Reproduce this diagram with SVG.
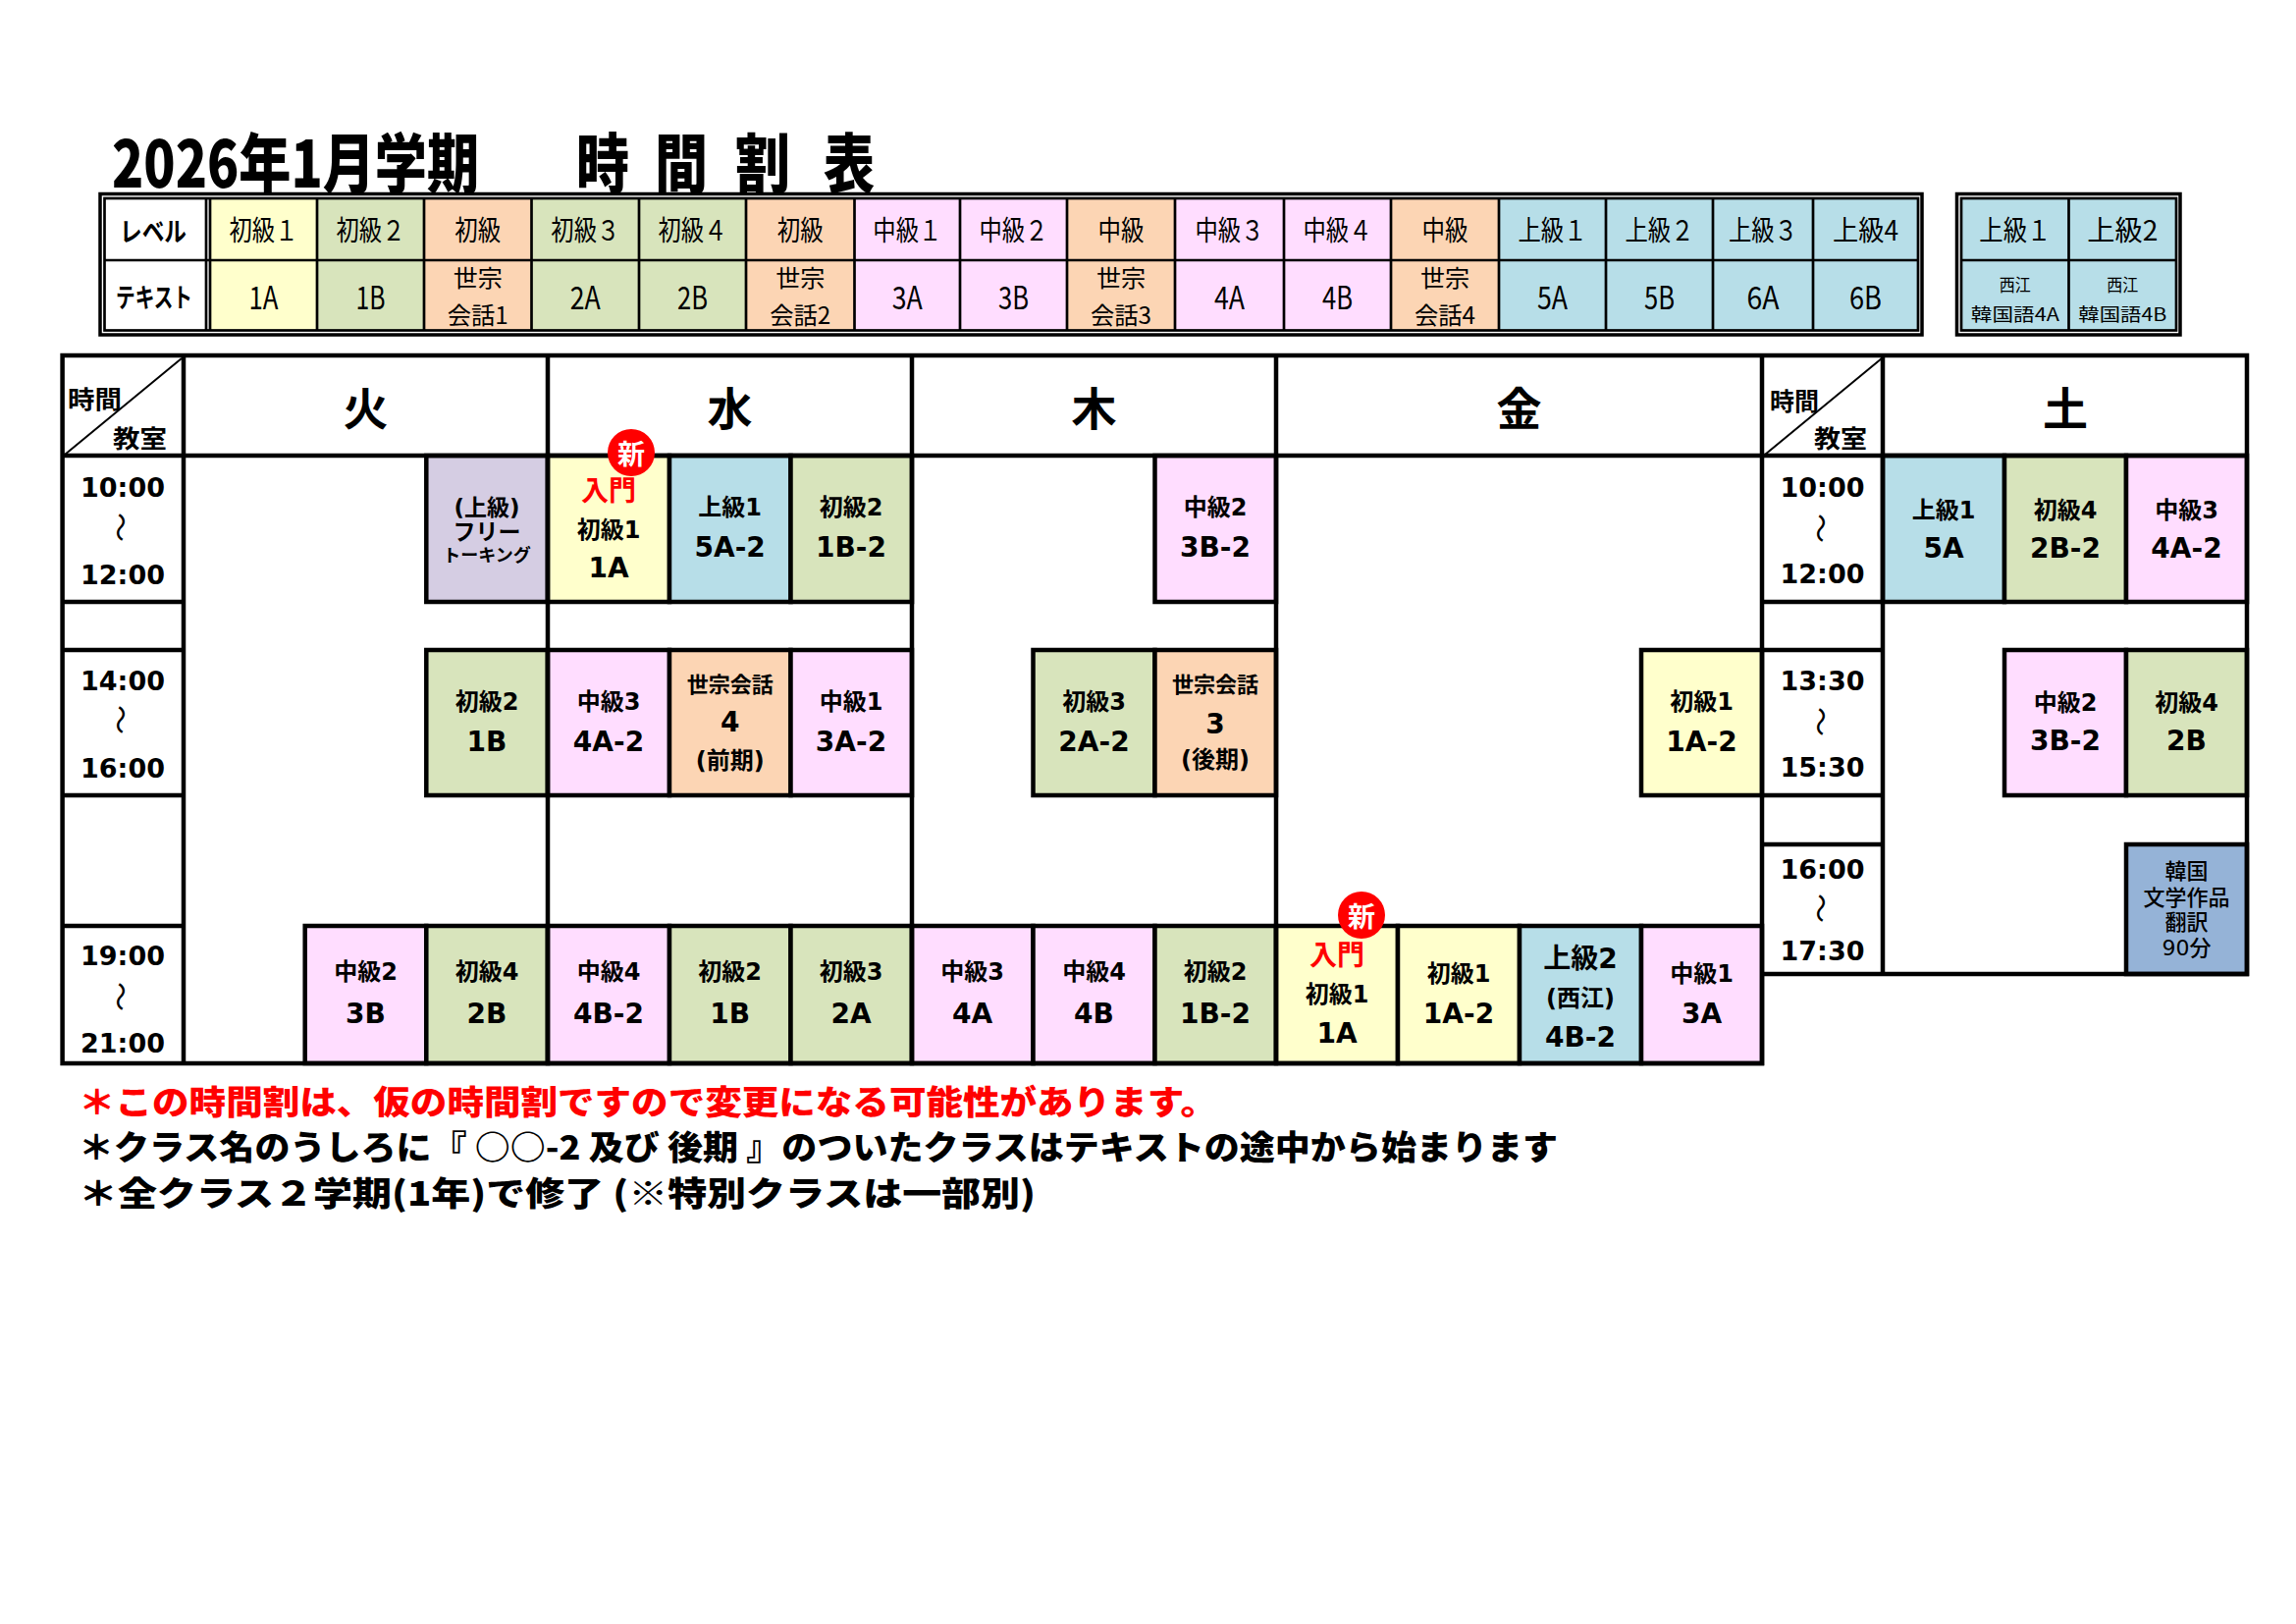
<svg xmlns="http://www.w3.org/2000/svg" width="2339" height="1654" viewBox="0 0 2339 1654">
<style>
text{dominant-baseline:central;text-anchor:middle;fill:#000}
.n{font-family:"Noto Sans CJK JP","Noto Sans",sans-serif}
.j{font-family:"DejaVu Sans","Noto Sans CJK JP",sans-serif;font-weight:700}
.bd{font-weight:700}
.hv{font-weight:900}
.lv{font-size:28px;font-weight:400}
.lc{font-size:32px;font-weight:400}
.ls{font-size:24px;font-weight:400}
.lt{font-size:18px;font-weight:400}
.lb{font-size:24px}
.cd{font-size:28px}
.tm{font-size:27px}
.wv{font-family:"Noto Sans CJK JP",sans-serif;font-size:30px;font-weight:400}
.hd{font-size:46px;font-weight:700}
.red{fill:#FF0000}
.wh{fill:#FFFFFF}
.st{text-anchor:start}
.c{stroke:#000;stroke-width:4.5}
.lg{fill:none;stroke:#000;stroke-width:2.7}
.g{fill:none;stroke:#000;stroke-width:4.5;stroke-linecap:square}
.y{fill:#FFFFCC}.gr{fill:#D8E4BC}.o{fill:#FCD5B4}.p{fill:#FFDDFF}.b{fill:#B7DEE8}.v{fill:#D5CDE3}.kb{fill:#95B3D7}.w{fill:#FFFFFF}
</style>

<g id="title" class="n hv">
<text class="st" x="114" y="162" font-size="66" textLength="374" lengthAdjust="spacingAndGlyphs">2026年1月学期</text>
<text x="614" y="162" font-size="66" textLength="54" lengthAdjust="spacingAndGlyphs">時</text>
<text x="694" y="162" font-size="66" textLength="54" lengthAdjust="spacingAndGlyphs">間</text>
<text x="777" y="162" font-size="66" textLength="56" lengthAdjust="spacingAndGlyphs">割</text>
<text x="865" y="162" font-size="66" textLength="52" lengthAdjust="spacingAndGlyphs">表</text>
</g>

<!-- level table -->
<g id="level-table" class="n">
<g id="lv-head">
<rect class="w" x="106.5" y="202" width="103.5" height="134.5"/>
<text class="bd" x="156" y="234" font-size="27" textLength="68" lengthAdjust="spacingAndGlyphs">レベル</text>
<text class="bd" x="157" y="301" font-size="27" textLength="78" lengthAdjust="spacingAndGlyphs">テキスト</text>
</g>
<g id="lv1"><rect class="y" x="214" y="202" width="109" height="134.5"/><text class="lv" x="268.5" y="233" textLength="70" lengthAdjust="spacingAndGlyphs">初級１</text><text class="lc" x="268.5" y="301" textLength="30" lengthAdjust="spacingAndGlyphs">1A</text></g>
<g id="lv2"><rect class="gr" x="323" y="202" width="109" height="134.5"/><text class="lv" x="377.5" y="233" textLength="70" lengthAdjust="spacingAndGlyphs">初級２</text><text class="lc" x="377.5" y="301" textLength="30" lengthAdjust="spacingAndGlyphs">1B</text></g>
<g id="lv3"><rect class="o" x="432" y="202" width="109.5" height="134.5"/><text class="lv" x="486.8" y="233" textLength="47" lengthAdjust="spacingAndGlyphs">初級</text><text class="ls" x="486.8" y="281" textLength="50" lengthAdjust="spacingAndGlyphs">世宗</text><text class="ls" x="486.8" y="319" textLength="62" lengthAdjust="spacingAndGlyphs">会話1</text></g>
<g id="lv4"><rect class="gr" x="541.5" y="202" width="109.5" height="134.5"/><text class="lv" x="596.3" y="233" textLength="70" lengthAdjust="spacingAndGlyphs">初級３</text><text class="lc" x="596.3" y="301" textLength="31" lengthAdjust="spacingAndGlyphs">2A</text></g>
<g id="lv5"><rect class="gr" x="651" y="202" width="109" height="134.5"/><text class="lv" x="705.5" y="233" textLength="70" lengthAdjust="spacingAndGlyphs">初級４</text><text class="lc" x="705.5" y="301" textLength="31" lengthAdjust="spacingAndGlyphs">2B</text></g>
<g id="lv6"><rect class="o" x="760" y="202" width="110.5" height="134.5"/><text class="lv" x="815.3" y="233" textLength="47" lengthAdjust="spacingAndGlyphs">初級</text><text class="ls" x="815.3" y="281" textLength="50" lengthAdjust="spacingAndGlyphs">世宗</text><text class="ls" x="815.3" y="319" textLength="62" lengthAdjust="spacingAndGlyphs">会話2</text></g>
<g id="lv7"><rect class="p" x="870.5" y="202" width="107.5" height="134.5"/><text class="lv" x="924.3" y="233" textLength="70" lengthAdjust="spacingAndGlyphs">中級１</text><text class="lc" x="924.3" y="301" textLength="31" lengthAdjust="spacingAndGlyphs">3A</text></g>
<g id="lv8"><rect class="p" x="978" y="202" width="109" height="134.5"/><text class="lv" x="1032.5" y="233" textLength="70" lengthAdjust="spacingAndGlyphs">中級２</text><text class="lc" x="1032.5" y="301" textLength="31" lengthAdjust="spacingAndGlyphs">3B</text></g>
<g id="lv9"><rect class="o" x="1087" y="202" width="110" height="134.5"/><text class="lv" x="1142" y="233" textLength="47" lengthAdjust="spacingAndGlyphs">中級</text><text class="ls" x="1142" y="281" textLength="50" lengthAdjust="spacingAndGlyphs">世宗</text><text class="ls" x="1142" y="319" textLength="62" lengthAdjust="spacingAndGlyphs">会話3</text></g>
<g id="lv10"><rect class="p" x="1197" y="202" width="111" height="134.5"/><text class="lv" x="1252.5" y="233" textLength="70" lengthAdjust="spacingAndGlyphs">中級３</text><text class="lc" x="1252.5" y="301" textLength="31" lengthAdjust="spacingAndGlyphs">4A</text></g>
<g id="lv11"><rect class="p" x="1308" y="202" width="109" height="134.5"/><text class="lv" x="1362.5" y="233" textLength="70" lengthAdjust="spacingAndGlyphs">中級４</text><text class="lc" x="1362.5" y="301" textLength="31" lengthAdjust="spacingAndGlyphs">4B</text></g>
<g id="lv12"><rect class="o" x="1417" y="202" width="110" height="134.5"/><text class="lv" x="1472" y="233" textLength="47" lengthAdjust="spacingAndGlyphs">中級</text><text class="ls" x="1472" y="281" textLength="50" lengthAdjust="spacingAndGlyphs">世宗</text><text class="ls" x="1472" y="319" textLength="62" lengthAdjust="spacingAndGlyphs">会話4</text></g>
<g id="lv13"><rect class="b" x="1527" y="202" width="109" height="134.5"/><text class="lv" x="1581.5" y="233" textLength="70" lengthAdjust="spacingAndGlyphs">上級１</text><text class="lc" x="1581.5" y="301" textLength="31" lengthAdjust="spacingAndGlyphs">5A</text></g>
<g id="lv14"><rect class="b" x="1636" y="202" width="109" height="134.5"/><text class="lv" x="1690.5" y="233" textLength="70" lengthAdjust="spacingAndGlyphs">上級２</text><text class="lc" x="1690.5" y="301" textLength="31" lengthAdjust="spacingAndGlyphs">5B</text></g>
<g id="lv15"><rect class="b" x="1745" y="202" width="102" height="134.5"/><text class="lv" x="1796" y="233" textLength="70" lengthAdjust="spacingAndGlyphs">上級３</text><text class="lc" x="1796" y="301" textLength="33" lengthAdjust="spacingAndGlyphs">6A</text></g>
<g id="lv16"><rect class="b" x="1847" y="202" width="107" height="134.5"/><text class="lv" x="1900.5" y="233" textLength="67" lengthAdjust="spacingAndGlyphs">上級4</text><text class="lc" x="1900.5" y="301" textLength="33" lengthAdjust="spacingAndGlyphs">6B</text></g>
<g id="lv-lines">
<rect x="102" y="197.5" width="1856" height="143.5" fill="none" stroke="#000" stroke-width="3.5"/>
<rect class="lg" x="106.5" y="202" width="1847.5" height="134.5" stroke-width="2"/>
<path class="lg" d="M106.5 265H1954M210 202V336.5M214 202V336.5M323 202V336.5M432 202V336.5M541.5 202V336.5M651 202V336.5M760 202V336.5M870.5 202V336.5M978 202V336.5M1087 202V336.5M1197 202V336.5M1308 202V336.5M1417 202V336.5M1527 202V336.5M1636 202V336.5M1745 202V336.5M1847 202V336.5"/>
</g>
</g>

<g id="level-table-2" class="n">
<g id="lv-s1"><rect class="b" x="1998" y="202" width="109.5" height="134.5"/><text class="lv" x="2052.8" y="233" textLength="73" lengthAdjust="spacingAndGlyphs">上級１</text><text class="lt" x="2052.8" y="289" font-size="18" textLength="32" lengthAdjust="spacingAndGlyphs">西江</text><text class="lt" x="2052.8" y="319" font-size="19" textLength="90" lengthAdjust="spacingAndGlyphs">韓国語4A</text></g>
<g id="lv-s2"><rect class="b" x="2107.5" y="202" width="109.5" height="134.5"/><text class="lv" x="2162.3" y="233" textLength="72" lengthAdjust="spacingAndGlyphs">上級2</text><text class="lt" x="2162.3" y="289" font-size="18" textLength="32" lengthAdjust="spacingAndGlyphs">西江</text><text class="lt" x="2162.3" y="319" font-size="19" textLength="90" lengthAdjust="spacingAndGlyphs">韓国語4B</text></g>
<rect x="1993.5" y="197.5" width="227.5" height="143.5" fill="none" stroke="#000" stroke-width="3.5"/>
<rect class="lg" x="1998" y="202" width="219" height="134.5" stroke-width="2"/>
<path class="lg" d="M1998 265H2217M2107.5 202V336.5"/>
</g>

<!-- main timetable cells -->
<g id="cells" class="j">
<!-- Tuesday -->
<g id="tue-free"><rect class="c v" x="434.3" y="464" width="123.7" height="149"/><text x="496" y="517" font-size="23">(上級)</text><text x="496" y="542" font-size="23">フリー</text><text x="496" y="565" font-size="18">トーキング</text></g>
<g id="tue-1b"><rect class="c gr" x="434.3" y="662" width="123.7" height="148"/><text class="lb" x="496" y="715">初級2</text><text class="cd" x="496" y="755">1B</text></g>
<g id="tue-3b"><rect class="c p" x="310.7" y="943" width="123.6" height="140"/><text class="lb" x="372.5" y="990">中級2</text><text class="cd" x="372.5" y="1032">3B</text></g>
<g id="tue-2b"><rect class="c gr" x="434.3" y="943" width="123.7" height="140"/><text class="lb" x="496" y="990">初級4</text><text class="cd" x="496" y="1032">2B</text></g>
<!-- Wednesday -->
<g id="wed-1a"><rect class="c y" x="558" y="464" width="124" height="149"/><text class="red" x="620" y="500" font-size="28">入門</text><text class="lb" x="620" y="540">初級1</text><text class="cd" x="620" y="578">1A</text></g>
<g id="wed-5a2"><rect class="c b" x="682" y="464" width="123.5" height="149"/><text class="lb" x="743.7" y="517">上級1</text><text class="cd" x="743.7" y="557">5A-2</text></g>
<g id="wed-1b2"><rect class="c gr" x="805.5" y="464" width="123.5" height="149"/><text class="lb" x="867" y="517">初級2</text><text class="cd" x="867" y="557">1B-2</text></g>
<g id="wed-4a2"><rect class="c p" x="558" y="662" width="124" height="148"/><text class="lb" x="620" y="715">中級3</text><text class="cd" x="620" y="755">4A-2</text></g>
<g id="wed-sejong4"><rect class="c o" x="682" y="662" width="123.5" height="148"/><text x="743.7" y="697" font-size="22">世宗会話</text><text class="cd" x="743.7" y="735">4</text><text x="743.7" y="775" font-size="24">(前期)</text></g>
<g id="wed-3a2"><rect class="c p" x="805.5" y="662" width="123.5" height="148"/><text class="lb" x="867" y="715">中級1</text><text class="cd" x="867" y="755">3A-2</text></g>
<g id="wed-4b2"><rect class="c p" x="558" y="943" width="124" height="140"/><text class="lb" x="620" y="990">中級4</text><text class="cd" x="620" y="1032">4B-2</text></g>
<g id="wed-1b"><rect class="c gr" x="682" y="943" width="123.5" height="140"/><text class="lb" x="743.7" y="990">初級2</text><text class="cd" x="743.7" y="1032">1B</text></g>
<g id="wed-2a"><rect class="c gr" x="805.5" y="943" width="123.5" height="140"/><text class="lb" x="867" y="990">初級3</text><text class="cd" x="867" y="1032">2A</text></g>
<!-- Thursday -->
<g id="thu-3b2"><rect class="c p" x="1176.5" y="464" width="123.5" height="149"/><text class="lb" x="1238" y="517">中級2</text><text class="cd" x="1238" y="557">3B-2</text></g>
<g id="thu-2a2"><rect class="c gr" x="1052.5" y="662" width="124" height="148"/><text class="lb" x="1114.5" y="715">初級3</text><text class="cd" x="1114.5" y="755">2A-2</text></g>
<g id="thu-sejong3"><rect class="c o" x="1176.5" y="662" width="123.5" height="148"/><text x="1238" y="697" font-size="22">世宗会話</text><text class="cd" x="1238" y="737">3</text><text x="1238" y="774" font-size="24">(後期)</text></g>
<g id="thu-4a"><rect class="c p" x="929" y="943" width="123.5" height="140"/><text class="lb" x="990.7" y="990">中級3</text><text class="cd" x="990.7" y="1032">4A</text></g>
<g id="thu-4b"><rect class="c p" x="1052.5" y="943" width="124" height="140"/><text class="lb" x="1114.5" y="990">中級4</text><text class="cd" x="1114.5" y="1032">4B</text></g>
<g id="thu-1b2"><rect class="c gr" x="1176.5" y="943" width="123.5" height="140"/><text class="lb" x="1238" y="990">初級2</text><text class="cd" x="1238" y="1032">1B-2</text></g>
<!-- Friday -->
<g id="fri-1a2-pm"><rect class="c y" x="1672" y="662" width="123" height="148"/><text class="lb" x="1733.5" y="715">初級1</text><text class="cd" x="1733.5" y="755">1A-2</text></g>
<g id="fri-1a"><rect class="c y" x="1300" y="943" width="124" height="140"/><text class="red" x="1362" y="973" font-size="28">入門</text><text class="lb" x="1362" y="1013">初級1</text><text class="cd" x="1362" y="1052">1A</text></g>
<g id="fri-1a2"><rect class="c y" x="1424" y="943" width="124" height="140"/><text class="lb" x="1486" y="992">初級1</text><text class="cd" x="1486" y="1032">1A-2</text></g>
<g id="fri-4b2"><rect class="c b" x="1548" y="943" width="124" height="140"/><text x="1610" y="976" font-size="28">上級2</text><text x="1610" y="1017" font-size="24">(西江)</text><text class="cd" x="1610" y="1056">4B-2</text></g>
<g id="fri-3a"><rect class="c p" x="1672" y="943" width="123" height="140"/><text class="lb" x="1733.5" y="992">中級1</text><text class="cd" x="1733.5" y="1032">3A</text></g>
<!-- Saturday -->
<g id="sat-5a"><rect class="c b" x="1918" y="464" width="124" height="149"/><text class="lb" x="1980" y="520">上級1</text><text class="cd" x="1980" y="558">5A</text></g>
<g id="sat-2b2"><rect class="c gr" x="2042" y="464" width="124" height="149"/><text class="lb" x="2104" y="520">初級4</text><text class="cd" x="2104" y="558">2B-2</text></g>
<g id="sat-4a2"><rect class="c p" x="2166" y="464" width="123" height="149"/><text class="lb" x="2227.5" y="520">中級3</text><text class="cd" x="2227.5" y="558">4A-2</text></g>
<g id="sat-3b2"><rect class="c p" x="2042" y="662" width="124" height="148"/><text class="lb" x="2104" y="716">中級2</text><text class="cd" x="2104" y="754">3B-2</text></g>
<g id="sat-2b"><rect class="c gr" x="2166" y="662" width="123" height="148"/><text class="lb" x="2227.5" y="716">初級4</text><text class="cd" x="2227.5" y="754">2B</text></g>
<g id="sat-lit"><rect class="c kb" x="2166" y="860" width="123" height="132"/><text x="2227.5" y="887" font-size="22" font-weight="500">韓国</text><text x="2227.5" y="914" font-size="22" font-weight="500">文学作品</text><text x="2227.5" y="939" font-size="22" font-weight="500">翻訳</text><text x="2227.5" y="965" font-size="22" font-weight="500">90分</text></g>
</g>

<!-- grid -->
<g id="grid">
<path class="g" d="M63.6 362H2289M63.6 464H2289M63.6 362V1083M63.6 1083H1795M187 362V1083M558 362V1083M929 362V1083M1300 362V1083M1795 362V1083M1918 362V992M2289 362V992M1795 992H2289M63.6 613H187M63.6 662H187M63.6 810H187M63.6 943H187M1795 613H1918M1795 662H1918M1795 810H1918M1795 860H1918"/>
<path d="M66 463L185 365M1798 463L1917 365" stroke="#000" stroke-width="2" fill="none"/>
</g>

<!-- headers -->
<g id="headers" class="n">
<g id="hd-time1"><text class="bd" x="96.5" y="405" font-size="25" textLength="55" lengthAdjust="spacingAndGlyphs">時間</text><text class="bd" x="142.5" y="445" font-size="25" textLength="55" lengthAdjust="spacingAndGlyphs">教室</text></g>
<g id="hd-tue"><text class="hd" x="372.5" y="413">火</text></g>
<g id="hd-wed"><text class="hd" x="743.5" y="413">水</text></g>
<g id="hd-thu"><text class="hd" x="1114.5" y="413">木</text></g>
<g id="hd-fri"><text class="hd" x="1547.5" y="413">金</text></g>
<g id="hd-time2"><text class="bd" x="1828" y="407" font-size="25" textLength="50" lengthAdjust="spacingAndGlyphs">時間</text><text class="bd" x="1875" y="445" font-size="25" textLength="54" lengthAdjust="spacingAndGlyphs">教室</text></g>
<g id="hd-sat"><text class="hd" x="2104" y="413">土</text></g>
</g>

<!-- time labels -->
<g id="times" class="j">
<g id="t1"><text class="tm" x="125" y="496">10:00</text><text class="wv" x="125" y="537" transform="rotate(90 125 537)">～</text><text class="tm" x="125" y="585">12:00</text></g>
<g id="t2"><text class="tm" x="125" y="693">14:00</text><text class="wv" x="125" y="733" transform="rotate(90 125 733)">～</text><text class="tm" x="125" y="782">16:00</text></g>
<g id="t3"><text class="tm" x="125" y="973">19:00</text><text class="wv" x="125" y="1015" transform="rotate(90 125 1015)">～</text><text class="tm" x="125" y="1062">21:00</text></g>
<g id="t4"><text class="tm" x="1856.5" y="496">10:00</text><text class="wv" x="1856.5" y="538" transform="rotate(90 1856.5 538)">～</text><text class="tm" x="1856.5" y="584">12:00</text></g>
<g id="t5"><text class="tm" x="1856.5" y="693">13:30</text><text class="wv" x="1856.5" y="735" transform="rotate(90 1856.5 735)">～</text><text class="tm" x="1856.5" y="781">15:30</text></g>
<g id="t6"><text class="tm" x="1856.5" y="885">16:00</text><text class="wv" x="1856.5" y="925" transform="rotate(90 1856.5 925)">～</text><text class="tm" x="1856.5" y="968">17:30</text></g>
</g>

<!-- new badges -->
<g id="badge-wed" class="n"><circle cx="643" cy="461" r="24" fill="#FF0000"/><text class="wh bd" x="643" y="461" font-size="28">新</text></g>
<g id="badge-fri" class="n"><circle cx="1387" cy="932" r="24" fill="#FF0000"/><text class="wh bd" x="1387" y="932" font-size="28">新</text></g>

<!-- notes -->
<g id="notes" class="n hv">
<text class="st red" x="80" y="1120" font-size="34" textLength="1160" lengthAdjust="spacingAndGlyphs">＊この時間割は、仮の時間割ですので変更になる可能性があります。</text>
<text class="st" x="80" y="1166" font-size="34" textLength="1507" lengthAdjust="spacingAndGlyphs">＊クラス名のうしろに『 ○○-2 及び 後期 』のついたクラスはテキストの途中から始まります</text>
<text class="st" x="80" y="1213" font-size="34" textLength="975" lengthAdjust="spacingAndGlyphs">＊全クラス２学期(1年)で修了 (※特別クラスは一部別)</text>
</g>
</svg>
